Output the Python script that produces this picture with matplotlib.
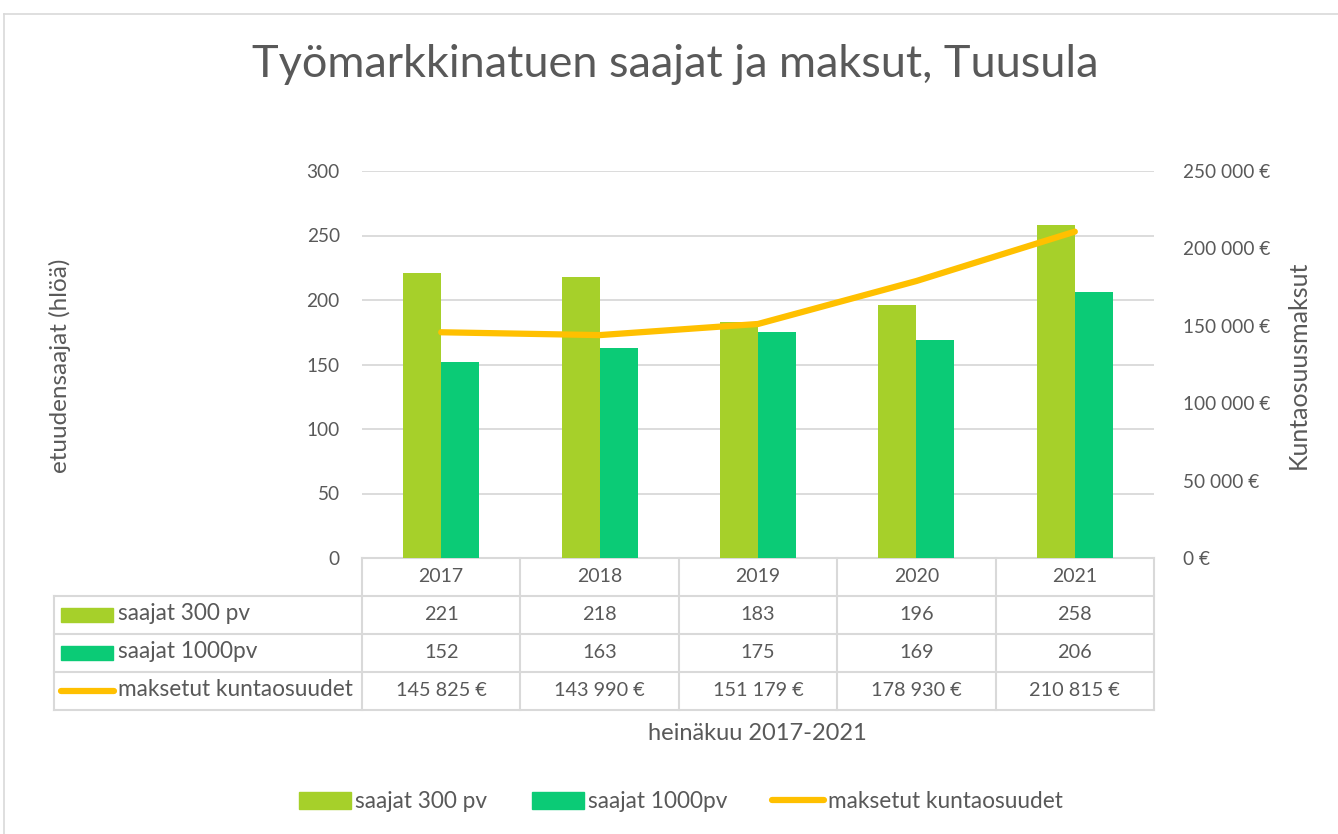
import matplotlib.pyplot as plt
import numpy as np
from matplotlib.lines import Line2D
from matplotlib.patches import Rectangle, Patch

plt.rcParams['font.family'] = ['Lato', 'DejaVu Sans']

# data
years = ['2017', '2018', '2019', '2020', '2021']
saajat_300 = [221, 218, 183, 196, 258]
saajat_1000 = [152, 163, 175, 169, 206]
kuntaosuudet = [145825, 143990, 151179, 178930, 210815]
series_names = ['saajat 300 pv', 'saajat 1000pv', 'maksetut kuntaosuudet']

c300 = '#A6D02A'
c1000 = '#0BCB76'
cline = '#FFC000'
grid_c = '#D9D9D9'
txt_c = '#595959'


def eur(v):
    return '{:,}'.format(int(v)).replace(',', ' ') + ' €'


W, H = 1338, 834
fig = plt.figure(figsize=(W / 100, H / 100), dpi=100)

# plot area in pixels
x0, x1, y_top, y_bot = 362, 1154, 171, 558
ax = fig.add_axes([x0 / W, 1 - y_bot / H, (x1 - x0) / W, (y_bot - y_top) / H])
ax.set_facecolor('none')
ax2 = ax.twinx()

x = np.arange(len(years))
bw = 0.24
ax.bar(x - bw / 2, saajat_300, bw, color=c300, zorder=3)
ax.bar(x + bw / 2, saajat_1000, bw, color=c1000, zorder=3)
ax2.plot(x, kuntaosuudet, color=cline, lw=4.5, solid_capstyle='round', zorder=4)

ax.set_xlim(-0.5, len(years) - 0.5)
ax.set_ylim(0, 300)
ax.set_yticks(range(0, 301, 50))
ax2.set_ylim(0, 250000)
ax2.set_yticks(range(0, 250001, 50000))
ax2.set_yticklabels([eur(v) for v in range(0, 250001, 50000)])
ax.yaxis.grid(True, color=grid_c, lw=1.3, zorder=0)
ax.set_xticks([])
for a in (ax, ax2):
    for s in a.spines.values():
        s.set_visible(False)
    a.tick_params(length=0, colors=txt_c, labelsize=13.7)
ax.tick_params(axis='y', pad=16)
for lab in ax2.get_yticklabels():
    lab.set_horizontalalignment('left')
ax2.tick_params(axis='y', pad=21)

# overlay in pixel coordinates for table, border, title
ov = fig.add_axes([0, 0, 1, 1], zorder=-1)
ov.set_xlim(0, W)
ov.set_ylim(H, 0)
ov.axis('off')

ov.plot([3.5, 3.5], [13.5, H], color=grid_c, lw=1.2)
ov.plot([3.5, W], [13.5, 13.5], color=grid_c, lw=1.2)

ov.text(675, 64, 'Työmarkkinatuen saajat ja maksut, Tuusula', ha='center', va='center',
        fontsize=32.5, color=txt_c)

ov.text(60, 366, 'etuudensaajat (hlöä)', rotation=90, ha='center', va='center',
        fontsize=17.5, color=txt_c)
ov.text(1298, 365, 'Kuntaosuusmaksut', rotation=90, ha='center', va='center',
        fontsize=18, color=txt_c)

# data table
cw = (x1 - x0) / len(years)
rows = [558, 596, 634, 672, 710]
tl = 54
ov.plot([x0, x1], [rows[0], rows[0]], color=grid_c, lw=1.5)
for r in rows[1:]:
    ov.plot([tl, x1], [r, r], color=grid_c, lw=1.5)
ov.plot([tl, tl], [rows[1], rows[-1]], color=grid_c, lw=1.5)
for i in range(len(years) + 1):
    xx = x0 + i * cw
    ov.plot([xx, xx], [rows[0], rows[-1]], color=grid_c, lw=1.5)

table_vals = [[str(v) for v in saajat_300],
              [str(v) for v in saajat_1000],
              [eur(v) for v in kuntaosuudet]]
for i, yr in enumerate(years):
    cx = x0 + (i + 0.5) * cw
    ov.text(cx, (rows[0] + rows[1]) / 2, yr, ha='center', va='center', fontsize=14, color=txt_c)
    for j in range(3):
        ov.text(cx, (rows[j + 1] + rows[j + 2]) / 2, table_vals[j][i], ha='center', va='center',
                fontsize=14.3, color=txt_c)

for j, (name, col) in enumerate(zip(series_names, [c300, c1000, cline])):
    cy = (rows[j + 1] + rows[j + 2]) / 2
    if j < 2:
        ov.add_patch(Rectangle((61, cy - 7), 52, 14, color=col))
    else:
        ov.plot([61, 114], [cy, cy], color=col, lw=4.5, solid_capstyle='round')
    ov.text(118, cy - 1, name, ha='left', va='center', fontsize=16.3, color=txt_c)

ov.text(757, 733, 'heinäkuu 2017-2021', ha='center', va='center', fontsize=17, color=txt_c)

# legend
handles = [Patch(color=c300), Patch(color=c1000),
           Line2D([0], [0], color=cline, lw=4.5, solid_capstyle='round')]
fig.legend(handles, series_names, loc='center', bbox_to_anchor=(681 / W, 1 - 802 / H),
           ncol=3, frameon=False, fontsize=16.3, labelcolor=txt_c, handlelength=2.3,
           handleheight=0.8, handletextpad=0.15, columnspacing=2.0)

fig.savefig('out.png', dpi=100, facecolor='white')
